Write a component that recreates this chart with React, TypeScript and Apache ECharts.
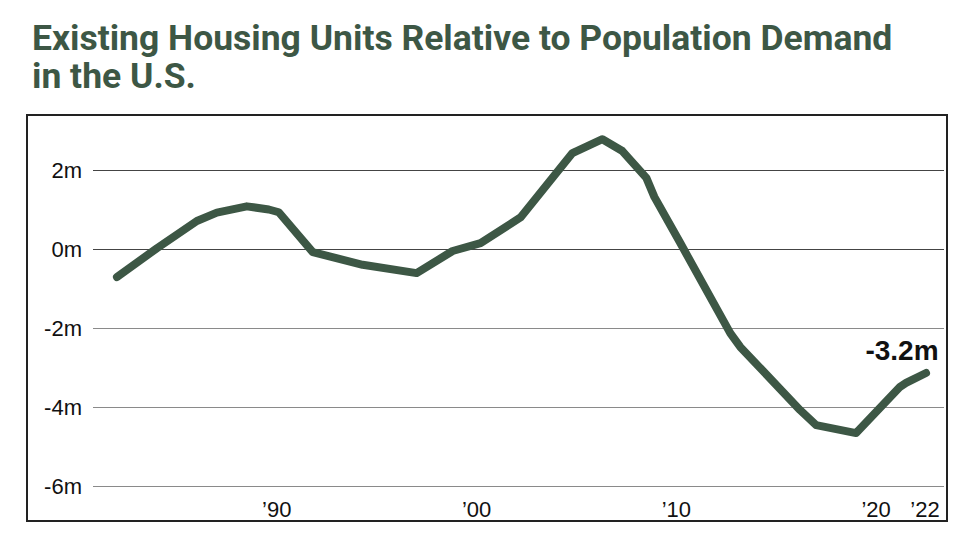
import React, { useEffect, useRef } from "react";
import * as echarts from "echarts";

const TITLE = "Existing Housing Units Relative to Population Demand\nin the U.S.";
const years = [
  1982, 1984, 1986, 1987, 1988.5, 1989.6, 1990.1, 1991.8, 1994.3, 1997.0,
  1998.8, 2000.2, 2002.2, 2004.8, 2006.3, 2007.3, 2008.5, 2008.9, 2010.2,
  2012.7, 2013.2, 2016.2, 2017.0, 2019.0, 2021.2, 2021.5, 2022.5,
];
const values = [
  -0.71, 0.02, 0.71, 0.92, 1.08, 1.0, 0.93, -0.08, -0.4, -0.61,
  -0.05, 0.15, 0.8, 2.43, 2.78, 2.48, 1.8, 1.32, 0.15,
  -2.13, -2.48, -4.08, -4.46, -4.66, -3.49, -3.39, -3.14,
];
const xTickYears = [1990, 2000, 2010, 2020, 2022.45];
const endLabel = "-3.2m";

const GREEN = "#3d5745";

export default function App() {
  const ref = useRef<HTMLDivElement>(null);
  useEffect(() => {
    if (!ref.current) return;
    const chart = echarts.init(ref.current, null, { renderer: "svg" });
    const data = years.map((y, i) => {
      const item: any = { value: [y, values[i]] };
      if (i === years.length - 1) {
        item.label = {
          show: true,
          position: "top",
          offset: [-24, -3],
          formatter: endLabel,
          fontFamily: "'Liberation Sans', Arial, sans-serif",
          fontWeight: "bold",
          fontSize: 28,
          color: "#111",
        };
      }
      return item;
    });
    chart.setOption({
      animation: false,
      backgroundColor: "#ffffff",
      title: {
        text: TITLE,
        left: 27,
        top: 14,
        textStyle: {
          fontFamily: "Roboto, 'Noto Sans', sans-serif",
          fontWeight: "bold",
          fontSize: 35.5,
          lineHeight: 38,
          color: GREEN,
        },
      },
      graphic: [
        {
          type: "rect",
          shape: { x: 27, y: 115, width: 920, height: 406 },
          style: { fill: "none", stroke: "#222", lineWidth: 2 },
          z: 0,
        },
      ],
      grid: {
        left: 93,
        right: 33,
        top: 170,
        bottom: 64,
        containLabel: false,
        outerBoundsMode: "none",
      },
      xAxis: {
        type: "value",
        min: 1980.8,
        max: 2023.4,
        axisLine: { show: false },
        axisTick: { show: false },
        splitLine: { show: false },
        axisLabel: {
          customValues: xTickYears,
          margin: 12,
          fontFamily: "'Liberation Sans', Arial, sans-serif",
          fontSize: 22,
          color: "#111",
          formatter: (v: number) =>
            "\u2019" + String(Math.round(v) % 100).padStart(2, "0"),
        },
      },
      yAxis: {
        type: "value",
        min: -6,
        max: 2,
        interval: 2,
        axisLine: { show: false },
        axisTick: { show: false },
        axisLabel: {
          margin: 11,
          fontFamily: "'Liberation Sans', Arial, sans-serif",
          fontSize: 22,
          color: "#111",
          formatter: (v: number) => `${v}m`,
        },
        splitLine: {
          show: true,
          lineStyle: {
            color: ["#8a8a8a", "#8a8a8a", "#8a8a8a", "#444", "#444"],
            width: 1,
          },
        },
      },
      series: [
        {
          type: "line",
          data,
          clip: false,
          symbol: "circle",
          symbolSize: 1,
          showSymbol: true,
          itemStyle: { color: GREEN },
          smooth: false,
          lineStyle: { color: GREEN, width: 8, cap: "round", join: "round" },
          z: 3,
        },
      ],
    });
    return () => chart.dispose();
  }, []);
  return (
    <div
      ref={ref}
      style={{ position: "fixed", left: 0, top: 0, width: 977, height: 550, background: "#fff" }}
    />
  );
}
